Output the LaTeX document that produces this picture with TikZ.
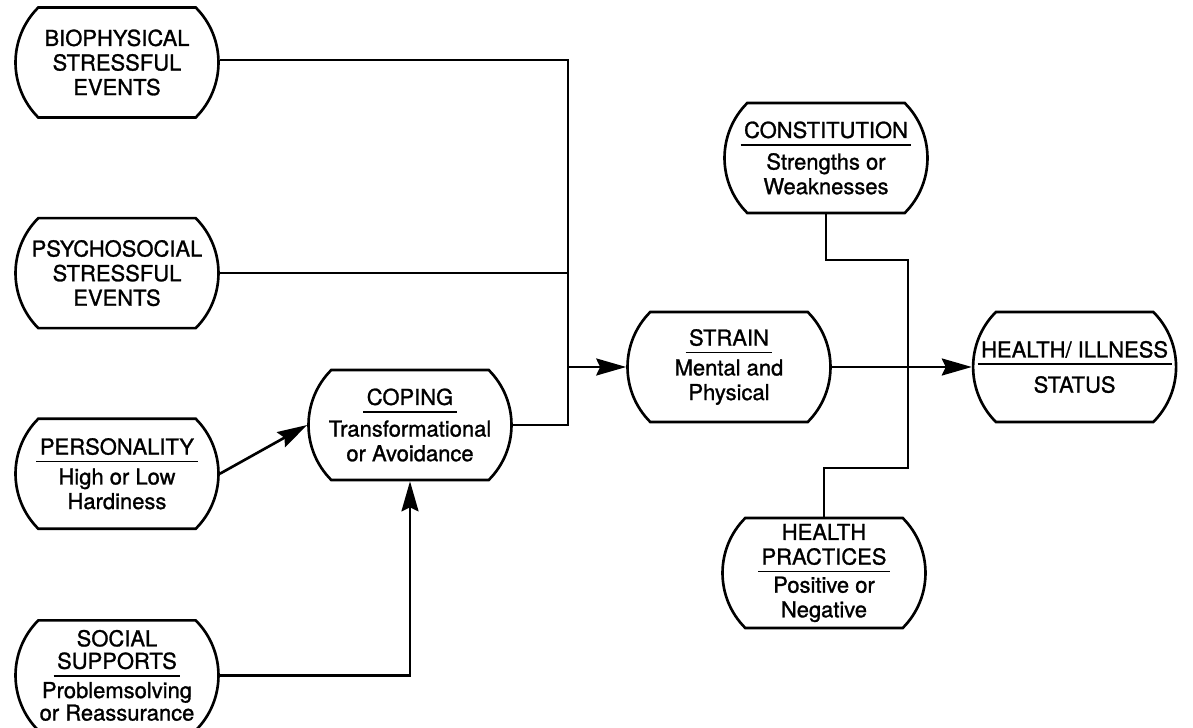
\documentclass[tikz,border=0pt]{standalone}
\usepackage{fontspec}
\setmainfont{TeX Gyre Heros}[FakeBold=1.2]
\usetikzlibrary{arrows.meta,positioning,shapes.misc}

\newcommand{\hdr}[1]{\setbox0\hbox{#1}\rlap{\kern-2pt\rule[-4.5pt]{\dimexpr\wd0+4pt\relax}{1.1pt}}\box0}

\tikzset{
  factor/.style={draw, line width=1.5pt, rounded rectangle, rounded rectangle arc length=90,
    minimum width=4.2cm, minimum height=2.2cm, inner sep=2pt, align=center,
    font=\fontsize{12.5}{14}\selectfont},
  link/.style={line width=1.5pt},
  arrow/.style={link, -{Stealth[length=0.6cm,width=0.34cm,inset=0.08cm]}}
}

\begin{document}
\begin{tikzpicture}[node distance=1.9cm]

\useasboundingbox (0,0) rectangle (23.86,-14.56);

% left column
\node [factor] (bio) at (2.34,-1.25) {BIOPHYSICAL\\ STRESSFUL\\ EVENTS};
\node [factor, below =1.96cm of bio] (psy) {PSYCHOSOCIAL\\ STRESSFUL\\ EVENTS};
\node [factor, below =1.76cm of psy] (pers) {\hdr{PERSONALITY}\\[3pt] High or Low\\ Hardiness};
\node [factor, below =1.78cm of pers, font=\fontsize{12.5}{12.8}\selectfont] (soc)
  {SOCIAL\\ \hdr{SUPPORTS}\\[2pt] Problemsolving\\ or Reassurance};

\node [factor] (cop) at (8.2,-8.5) {\hdr{COPING}\\[4pt] Transformational\\ or Avoidance};

% right part
\node [factor] (str) at (14.58,-7.34) {\hdr{STRAIN}\\[3pt] Mental and\\ Physical};
\node [factor, right =2.8cm of str] (hi) {\hdr{HEALTH/ ILLNESS}\\[6pt] STATUS};
\node [factor] (con) at (16.52,-3.16) {\hdr{CONSTITUTION}\\[4pt] Strengths or\\ Weaknesses};
\node [factor] (hp) at (16.48,-11.46) {HEALTH\\ \hdr{PRACTICES}\\[2pt] Positive or\\ Negative};

\coordinate (jt) at (11.36,-1.2);
\coordinate (cv) at (18.16,-5.2);
\coordinate (cv2) at (18.16,-9.36);

\draw [link] (bio.east |- jt) -- (jt) |- (cop.east);
\draw [link] (psy.east) -- (psy.east -| jt);
\draw [arrow] (str.west -| jt) -- (str.west);

\draw [arrow] (pers.east) -- (cop.west);
\draw [arrow] (soc.east) -| (cop.south);

\draw [arrow] (str.east) -- (hi.west);
\draw [link] (con.south) |- (cv) -- (cv2) -| (hp.north);

\end{tikzpicture}
\end{document}
